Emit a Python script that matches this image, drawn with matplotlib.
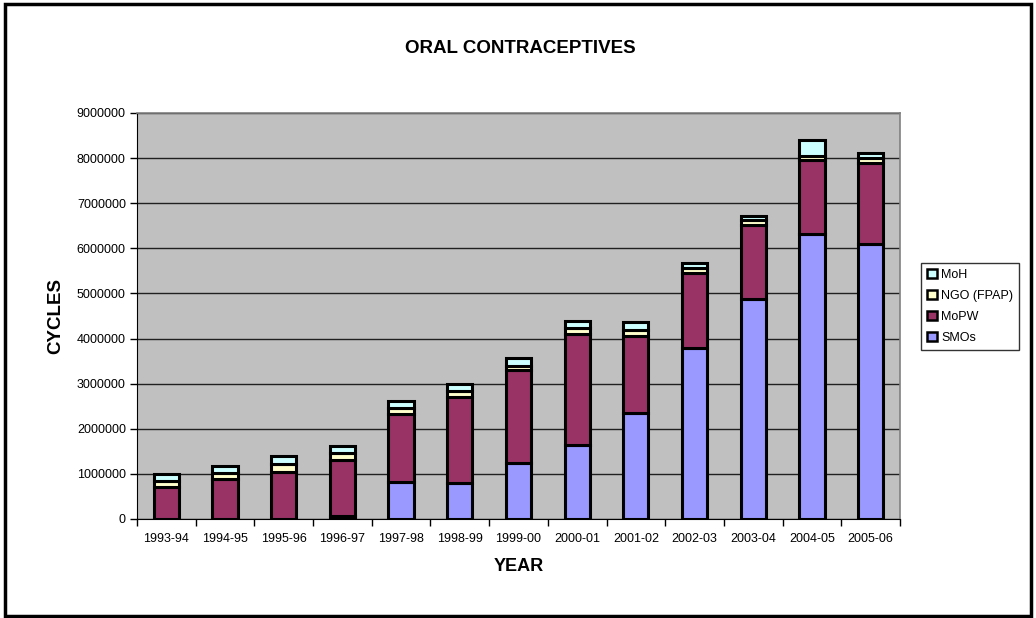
import numpy as np
import matplotlib
matplotlib.use("Agg")
from matplotlib import pyplot as plt
from matplotlib.patches import Rectangle

plt.rcParams['font.family'] = ['Liberation Sans', 'DejaVu Sans']

years = ['1993-94', '1994-95', '1995-96', '1996-97', '1997-98', '1998-99', '1999-00',
         '2000-01', '2001-02', '2002-03', '2003-04', '2004-05', '2005-06']

# values (cycles)
smos = [0, 0, 0, 60000, 820000, 800000, 1250000, 1630000, 2350000, 3790000, 4880000, 6320000, 6100000]
mopw = [710000, 890000, 1040000, 1250000, 1510000, 1910000, 2060000, 2480000, 1710000, 1660000, 1640000, 1640000, 1790000]
ngo = [130000, 130000, 180000, 150000, 130000, 130000, 80000, 130000, 130000, 110000, 100000, 90000, 110000]
moh = [150000, 150000, 170000, 160000, 160000, 150000, 180000, 140000, 180000, 110000, 100000, 350000, 110000]

series = [('SMOs', smos, '#9999FF'), ('MoPW', mopw, '#993366'),
          ('NGO (FPAP)', ngo, '#FFFFCC'), ('MoH', moh, '#CCFFFF')]

fig = plt.figure(figsize=(10.36, 6.18), dpi=100)
ax = fig.add_axes([0.1322, 0.1602, 0.7365, 0.657])
ax.set_facecolor('#C0C0C0')

x = np.arange(len(years))
bottom = np.zeros(len(years))
handles = []
for name, vals, col in series:
    b = ax.bar(x, vals, width=0.43, bottom=bottom, color=col, edgecolor='black',
               linewidth=2.2, label=name, zorder=3)
    handles.append(b)
    bottom += np.array(vals)

ax.set_xlim(-0.5, len(years) - 0.5)
ax.set_ylim(0, 9000000)
ax.set_yticks(np.arange(0, 9000001, 1000000))
ax.set_yticklabels([str(v) for v in range(0, 9000001, 1000000)], fontsize=9)
ax.yaxis.grid(True, color='#202020', linewidth=1.0, zorder=1)
ax.set_axisbelow(True)

ax.set_xticks(x)
ax.set_xticklabels(years, fontsize=9)
ax.set_xticks(np.arange(-0.5, len(years), 1.0), minor=True)
ax.tick_params(axis='x', which='major', length=0, pad=10)
ax.tick_params(axis='x', which='minor', length=5, width=1, color='black', direction='out')
ax.tick_params(axis='y', length=5, width=1, color='black', direction='out', pad=3)

for s in ['top', 'right']:
    ax.spines[s].set_color('#808080')
    ax.spines[s].set_linewidth(1.2)
ax.spines['left'].set_color('black')
ax.spines['bottom'].set_color('black')

ax.set_xlabel('YEAR', fontsize=13, fontweight='bold', va='center')
ax.xaxis.set_label_coords(0.5, -0.118)
ax.set_ylabel('CYCLES', fontsize=13.5, fontweight='bold', va='center')
ax.yaxis.set_label_coords(-0.106, 0.5)
fig.text(0.502, 0.921, 'ORAL CONTRACEPTIVES', fontsize=13.5, fontweight='bold',
         ha='center', va='center')

leg = fig.legend(handles[::-1], [s[0] for s in series][::-1], loc='upper left',
                 bbox_to_anchor=(0.889, 0.575), fontsize=9, frameon=True,
                 fancybox=False, handlelength=0.8, handleheight=0.8,
                 handletextpad=0.3, labelspacing=0.7, borderpad=0.5,
                 borderaxespad=0)
leg.get_frame().set_edgecolor('black')
leg.get_frame().set_linewidth(1.0)
for h in leg.legend_handles:
    h.set_linewidth(1.8)

fig.patches.append(Rectangle((0.0045, 0.004), 0.991, 0.989, transform=fig.transFigure,
                             fill=False, edgecolor='black', linewidth=2.5))

fig.savefig('out.png', dpi=100)
